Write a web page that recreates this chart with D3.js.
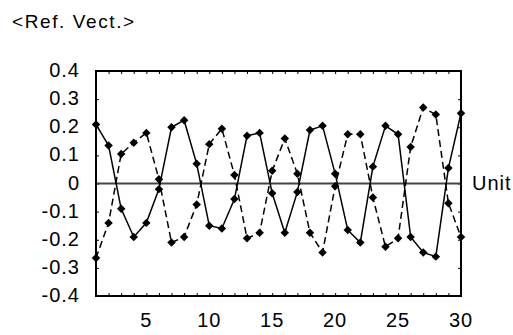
<!DOCTYPE html>
<html><head><meta charset="utf-8">
<script src="https://cdn.jsdelivr.net/npm/d3@7"></script>
<style>body{margin:0;background:#fff}svg{display:block}text{font-family:"Liberation Sans",Arial,sans-serif;fill:#000}</style>
</head><body>
<script>
const units = [1,2,3,4,5,6,7,8,9,10,11,12,13,14,15,16,17,18,19,20,21,22,23,24,25,26,27,28,29,30];
const solidSeries = [0.21,0.135,-0.09,-0.19,-0.14,-0.02,0.20,0.225,0.07,-0.15,-0.16,-0.055,0.17,0.18,-0.035,-0.175,-0.03,0.19,0.205,0.035,-0.165,-0.21,0.06,0.205,0.175,-0.19,-0.245,-0.26,0.055,0.25];
const dashedSeries = [-0.265,-0.14,0.105,0.145,0.18,0.015,-0.21,-0.19,-0.075,0.14,0.195,0.03,-0.195,-0.175,0.045,0.16,0.035,-0.175,-0.245,-0.01,0.175,0.175,-0.05,-0.225,-0.195,0.13,0.27,0.245,-0.07,-0.19];
const yTicks = [0.4,0.3,0.2,0.1,0,-0.1,-0.2,-0.3,-0.4];
const xTicks = [5,10,15,20,25,30];
const title = "<Ref. Vect.>";
const xLabel = "Unit";

const W=513,H=335, L=96,R=461,T=71,B=296;
const svg=d3.select("body").append("svg").attr("width",W).attr("height",H);
const x=d3.scaleLinear().domain([1,30]).range([L,R]);
const y=d3.scaleLinear().domain([-0.4,0.4]).range([B,T]);

svg.append("text").attr("x",12).attr("y",28).attr("font-size",19).attr("letter-spacing",1.6).text(title);

// inner ticks
const g=svg.append("g");
g.append("g").attr("transform",`translate(0,${B})`).call(d3.axisTop(x).tickValues(units).tickSize(3).tickFormat("")).call(a=>a.select(".domain").remove());
g.append("g").attr("transform",`translate(0,${T})`).call(d3.axisBottom(x).tickValues(units).tickSize(3).tickFormat("")).call(a=>a.select(".domain").remove());
g.append("g").attr("transform",`translate(${L},0)`).call(d3.axisRight(y).tickValues(yTicks).tickSize(3).tickFormat("")).call(a=>a.select(".domain").remove());
g.append("g").attr("transform",`translate(${R},0)`).call(d3.axisLeft(y).tickValues(yTicks).tickSize(3).tickFormat("")).call(a=>a.select(".domain").remove());
g.selectAll(".tick line").attr("stroke","#000").attr("stroke-width",1);

// labels
svg.append("g").selectAll("text").data(yTicks).join("text")
  .attr("x",80).attr("y",d=>y(d)).attr("dy","0.3em").attr("text-anchor","end").attr("font-size",20).attr("letter-spacing",1)
  .text(d=>String(d));
svg.append("g").selectAll("text").data(xTicks).join("text")
  .attr("x",d=>x(d)).attr("y",327).attr("text-anchor","middle").attr("font-size",20).attr("letter-spacing",1).text(d=>d);
svg.append("text").attr("x",472).attr("y",y(0)).attr("dy","0.33em").attr("font-size",20).attr("letter-spacing",1).text(xLabel);

// zero line
svg.append("line").attr("x1",L).attr("x2",R).attr("y1",y(0)).attr("y2",y(0)).attr("stroke","#444").attr("stroke-width",2);

const line=d3.line().x((d,i)=>x(units[i])).y(d=>y(d));
svg.append("path").attr("d",line(solidSeries)).attr("fill","none").attr("stroke","#000").attr("stroke-width",1.5);
svg.append("path").attr("d",line(dashedSeries)).attr("fill","none").attr("stroke","#000").attr("stroke-width",1.5).attr("stroke-dasharray","7,4");

const sym=d3.symbol().type(d3.symbolSquare).size(36);
[solidSeries,dashedSeries].forEach(s=>{
  svg.append("g").selectAll("path").data(s).join("path")
    .attr("transform",(d,i)=>`translate(${x(units[i])},${y(d)}) rotate(45)`).attr("d",sym).attr("fill","#000");
});

// frame
svg.append("rect").attr("x",L).attr("y",T).attr("width",R-L).attr("height",B-T).attr("fill","none").attr("stroke","#000").attr("stroke-width",2);
</script>
</body></html>
